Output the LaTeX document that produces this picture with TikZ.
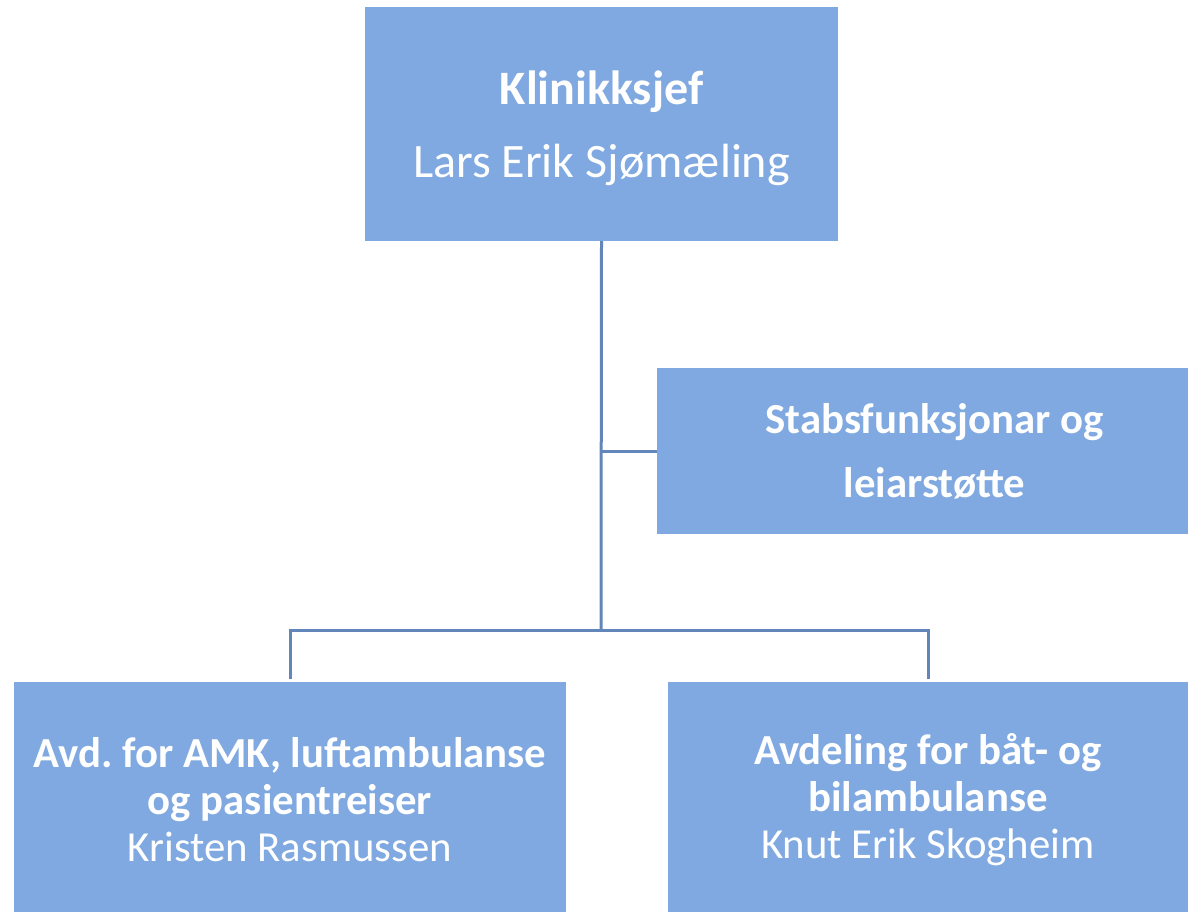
\documentclass[tikz,border=0pt]{standalone}
\usepackage{fontspec}
\setmainfont{Carlito}
\definecolor{boxblue}{RGB}{127,169,224}
\definecolor{lineblue}{RGB}{98,134,186}
\tikzset{
	orgbox/.style={fill=boxblue, text=white, align=center, inner sep=0pt, outer sep=0pt, font=\fontsize{21.4}{23.5}\selectfont},
	link/.style={draw=lineblue, line width=1.5pt}
}

\begin{document}
\frenchspacing
\begin{tikzpicture}[x=0.5pt,y=-0.5pt]
						\useasboundingbox (0,0) rectangle (1188,911);
						\path (601.5,124) node[orgbox, minimum width=236.5pt, minimum height=117pt, font=\fontsize{24}{29}\selectfont] (chief) {\rule{0pt}{21pt}\textbf{Klinikksjef}\\[7.5pt]Lars Erik Sjømæling};
						\path (922.5,451) node[orgbox, minimum width=265.5pt, minimum height=83pt] (staff) {\hspace*{12pt}\textbf{Stabsfunksjonar og}\\[8.5pt]\hspace*{12pt}\textbf{leiarstøtte}};
						\path (290,800) node[orgbox, minimum width=276pt, minimum height=118pt] (amk) {\textbf{Avd. for AMK, luftambulanse}\\\textbf{og pasientreiser}\\Kristen Rasmussen};
						\path (928,800) node[orgbox, minimum width=260pt, minimum height=118pt] (bil) {\textbf{Avdeling for båt- og}\\\textbf{bilambulanse}\\Knut Erik Skogheim};
						
						\coordinate (bus) at (601,630);
						\draw[link] (chief.south) -- (bus);
						\draw[link] (chief.south |- staff.west) -- (staff.west);
						\draw[link, shorten <=1.5pt, shorten >=1.5pt] (amk.north) |- (bus) -| (bil.north);
					\end{tikzpicture}
\end{document}
